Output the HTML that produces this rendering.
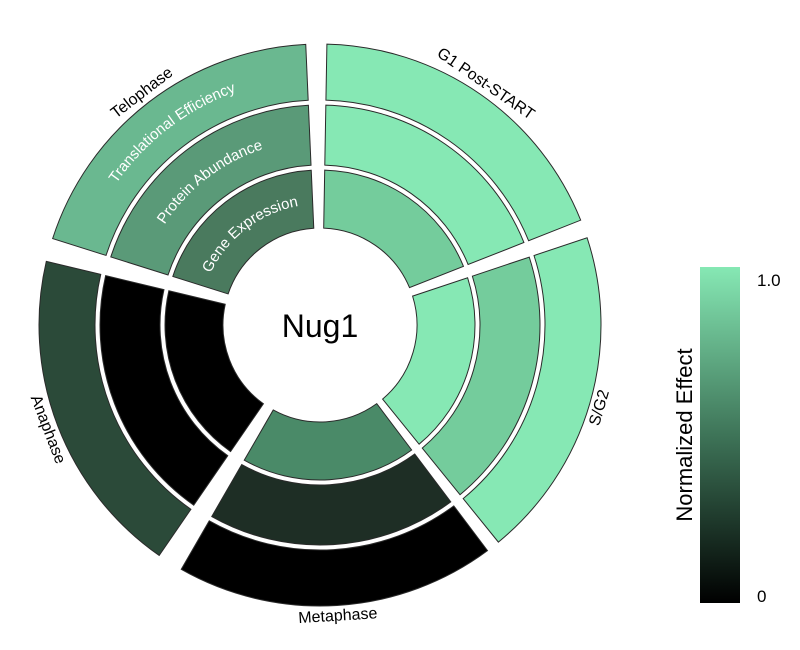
<!DOCTYPE html>
<html><head><meta charset="utf-8"><style>
html,body{margin:0;padding:0;background:#fff;width:800px;height:650px;overflow:hidden}
svg{display:block}
text{font-family:"Liberation Sans",sans-serif}
</style></head><body>
<svg id="s" width="800" height="650" viewBox="0 0 800 650" xmlns="http://www.w3.org/2000/svg">
<defs>
<linearGradient id="cb" x1="0" y1="0" x2="0" y2="1">
<stop offset="0" stop-color="#86e8b4"/><stop offset="0.5" stop-color="#3e7458"/><stop offset="1" stop-color="#000"/>
</linearGradient>
</defs>
<g id="g"></g>
<text x="320" y="337" font-size="32" text-anchor="middle" fill="#000">Nug1</text>
<rect x="700" y="267" width="40" height="336" fill="url(#cb)"/>
<text x="757" y="286" font-size="17" fill="#000">1.0</text>
<text x="757" y="602" font-size="17" fill="#000">0</text>
<text transform="translate(692,435) rotate(-90)" font-size="22" text-anchor="middle" fill="#000">Normalized Effect</text>
</svg>
<script>
var cx=320,cy=325,NS="http://www.w3.org/2000/svg",g=document.getElementById('g');
var rings=[[97,155],[160,220],[225,281]];
var cols=[["#74cc9c","#86e8b4","#86e8b4"],["#86e8b4","#74cc9c","#86e8b4"],["#4a8a68","#1e2e25","#000000"],["#000000","#000000","#2b4a39"],["#4a7a5e","#5a9a78","#6ab890"]];
var secs=[[1,68.5],[71.5,141],[143,210],[214.5,283.5],[287.5,357.5]];
function pt(a,r){var t=a*Math.PI/180;return [cx+r*Math.sin(t),cy-r*Math.cos(t)];}
function el(n,at){var e=document.createElementNS(NS,n);for(var k in at)e.setAttribute(k,at[k]);g.appendChild(e);return e;}
for(var s=0;s<5;s++){var a0=secs[s][0],a1=secs[s][1];
 for(var i=0;i<3;i++){var r0=rings[i][0],r1=rings[i][1];
  var o0=2/r0*180/Math.PI,o1=2/r1*180/Math.PI;
  var p1=pt(a0+o1,r1),p2=pt(a1-o1,r1),p3=pt(a1-o0,r0),p4=pt(a0+o0,r0);
  el('path',{d:'M'+p1+' A'+r1+' '+r1+' 0 0 1 '+p2+' L'+p3+' A'+r0+' '+r0+' 0 0 0 '+p4+'Z',fill:cols[s][i],stroke:'#2a2a2a','stroke-width':1});
 }}
var labs=["Gene Expression","Protein Abundance","Translational Efficiency"],lr=[121,185,248];
for(var i=0;i<3;i++){var r=lr[i],q1=pt(287.5,r),q2=pt(357.5,r);
 el('path',{id:'lp'+i,d:'M'+q1+' A'+r+' '+r+' 0 0 1 '+q2,fill:'none'});
 var t=el('text',{'font-size':15,fill:'#fff','text-anchor':'middle'});
 var tp=document.createElementNS(NS,'textPath');tp.setAttribute('href','#lp'+i);tp.setAttribute('startOffset','50%');tp.textContent=labs[i];t.appendChild(tp);}
var sl=[["G1 Post-START",34.5,34.5],["S/G2",106.5,-73.5],["Metaphase",176.5,-3.5],["Anaphase",249,69],["Telophase",322.5,-37.5]];
for(var k=0;k<5;k++){var p=pt(sl[k][1],292);var t=el('text',{'font-size':16,fill:'#000','text-anchor':'middle','dominant-baseline':'middle',transform:'translate('+p[0]+','+p[1]+') rotate('+sl[k][2]+')'});t.textContent=sl[k][0];}
</script>
</body></html>
